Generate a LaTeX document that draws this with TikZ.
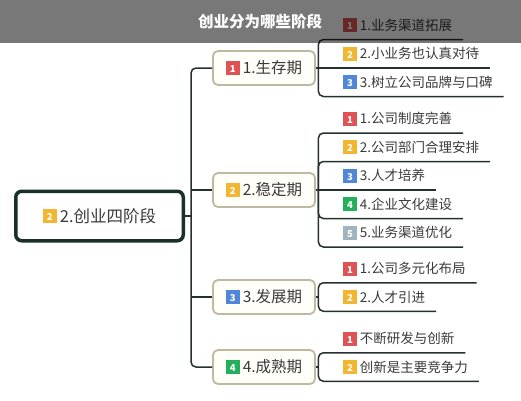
\documentclass[tikz,border=0pt]{standalone}
\usepackage{fontspec}
\setmainfont{Noto Sans CJK SC}
\usetikzlibrary{positioning}

\definecolor{linkc}{RGB}{38,48,46}
\definecolor{rootc}{RGB}{26,48,42}
\definecolor{stagec}{RGB}{190,185,160}
\definecolor{stagefill}{RGB}{255,254,248}
\definecolor{textc}{RGB}{58,58,58}
\definecolor{bred}{RGB}{222,84,84}
\definecolor{byellow}{RGB}{242,182,50}
\definecolor{bblue}{RGB}{80,135,216}
\definecolor{bgreen}{RGB}{36,176,90}
\definecolor{bgray}{RGB}{158,180,190}

\newcommand{\numbadge}[2]{\raisebox{\dimexpr0.38em-4.5pt\relax}{\setlength{\fboxsep}{0pt}\colorbox{#1}{\makebox[14pt][c]{\rule[-2.5pt]{0pt}{14pt}\color{white}\fontsize{9.5}{9.5}\selectfont\bfseries #2}}}\hspace{3pt}}

\begin{document}
\begin{tikzpicture}[x=1pt, y=1pt]
        \tikzstyle{root_style} = [rounded corners=6pt, draw=rootc, line width=3.5pt, fill=white, minimum width=167.5pt, minimum height=49.5pt, text=textc, font=\fontsize{16.5}{18}\selectfont]
        \tikzstyle{stage_style} = [rounded corners=5pt, draw=stagec, line width=1.8pt, fill=stagefill, minimum width=102pt, minimum height=34pt, text=textc, font=\fontsize{15.5}{17}\selectfont]
        \tikzstyle{leaf_style} = [inner xsep=11pt, inner ysep=0pt, outer sep=0pt, minimum height=28.5pt, text=textc, font=\fontsize{13.5}{15}\selectfont]
        \tikzstyle{link_style} = [linkc, line width=1.5pt, rounded corners=5pt]
        \tikzstyle{title_style} = [text=white, font=\fontsize{15.5}{17}\selectfont\bfseries]

        \useasboundingbox (0,0) rectangle (521,400);

        % root and the four stages
        \node[root_style] (n0) at (99.5,184) {\numbadge{byellow}{2}2.创业四阶段};
        \node[stage_style] (n1) at (264,332) {\numbadge{bred}{1}1.生存期};
        \node[stage_style] (n2) at (264,210) {\numbadge{byellow}{2}2.稳定期};
        \node[stage_style] (n3) at (264,103) {\numbadge{bblue}{3}3.发展期};
        \node[stage_style] (n4) at (264,33) {\numbadge{bgreen}{4}4.成熟期};

        % leaves of stage 1
        \node[leaf_style, right=16pt of n1.east, anchor=south west] (n12) {\numbadge{byellow}{2}2.小业务也认真对待};
        \node[leaf_style, above=0pt of n12.north west, anchor=south west] (n11) {\numbadge{bred}{1}1.业务渠道拓展};
        \node[leaf_style, below=0pt of n12.south west, anchor=north west] (n13) {\numbadge{bblue}{3}3.树立公司品牌与口碑};

        % leaves of stage 2
        \node[leaf_style, right=16pt of n2.east, anchor=south west] (n23) {\numbadge{bblue}{3}3.人才培养};
        \node[leaf_style, above=0pt of n23.north west, anchor=south west] (n22) {\numbadge{byellow}{2}2.公司部门合理安排};
        \node[leaf_style, above=0pt of n22.north west, anchor=south west] (n21) {\numbadge{bred}{1}1.公司制度完善};
        \node[leaf_style, below=0pt of n23.south west, anchor=north west] (n24) {\numbadge{bgreen}{4}4.企业文化建设};
        \node[leaf_style, below=0pt of n24.south west, anchor=north west] (n25) {\numbadge{bgray}{5}5.业务渠道优化};

        % leaves of stage 3
        \node[leaf_style, right=16pt of n3.east, anchor=south west, yshift=14.25pt] (n31) {\numbadge{bred}{1}1.公司多元化布局};
        \node[leaf_style, below=0pt of n31.south west, anchor=north west] (n32) {\numbadge{byellow}{2}2.人才引进};

        % leaves of stage 4
        \node[leaf_style, right=16pt of n4.east, anchor=south west, yshift=14.25pt] (n41) {\numbadge{bred}{1}不断研发与创新};
        \node[leaf_style, below=0pt of n41.south west, anchor=north west] (n42) {\numbadge{byellow}{2}创新是主要竞争力};

        % trunk
        \coordinate (t) at ([xshift=6pt]n0.east);
        \draw[link_style] (n0.east) -- (t);
        \draw[link_style] (t) |- (n1.west);
        \draw[link_style] (t) |- (n4.west);
        \draw[link_style] (t |- n2.west) -- (n2.west);
        \draw[link_style] (t |- n3.west) -- (n3.west);

        % brackets
        \coordinate (b1) at ([xshift=2.5pt]n1.east);
        \coordinate (b2) at ([xshift=2.5pt]n2.east);
        \coordinate (b3) at ([xshift=2.5pt]n3.east);
        \coordinate (b4) at ([xshift=2.5pt]n4.east);

        \draw[link_style] (n1.east) -- (n12.south east);
        \draw[link_style] (b1) |- (n11.south east);
        \draw[link_style] (b1) |- (n13.south east);

        \draw[link_style] (n2.east) -- (n23.south east);
        \draw[link_style] (b2) |- (n22.south east);
        \draw[link_style] (b2) |- (n21.south east);
        \draw[link_style] (b2) |- (n24.south east);
        \draw[link_style] (b2) |- (n25.south east);

        \draw[link_style] (n3.east) -- (b3);
        \draw[link_style] (b3) |- (n31.south east);
        \draw[link_style] (b3) |- (n32.south east);

        \draw[link_style] (n4.east) -- (b4);
        \draw[link_style] (b4) |- (n41.south east);
        \draw[link_style] (b4) |- (n42.south east);

        % title bar
        \fill[black, fill opacity=0.53] (0,357) rectangle (521,400);
        \node[title_style] (title) at (260,378) {创业分为哪些阶段};

\end{tikzpicture}
\end{document}
